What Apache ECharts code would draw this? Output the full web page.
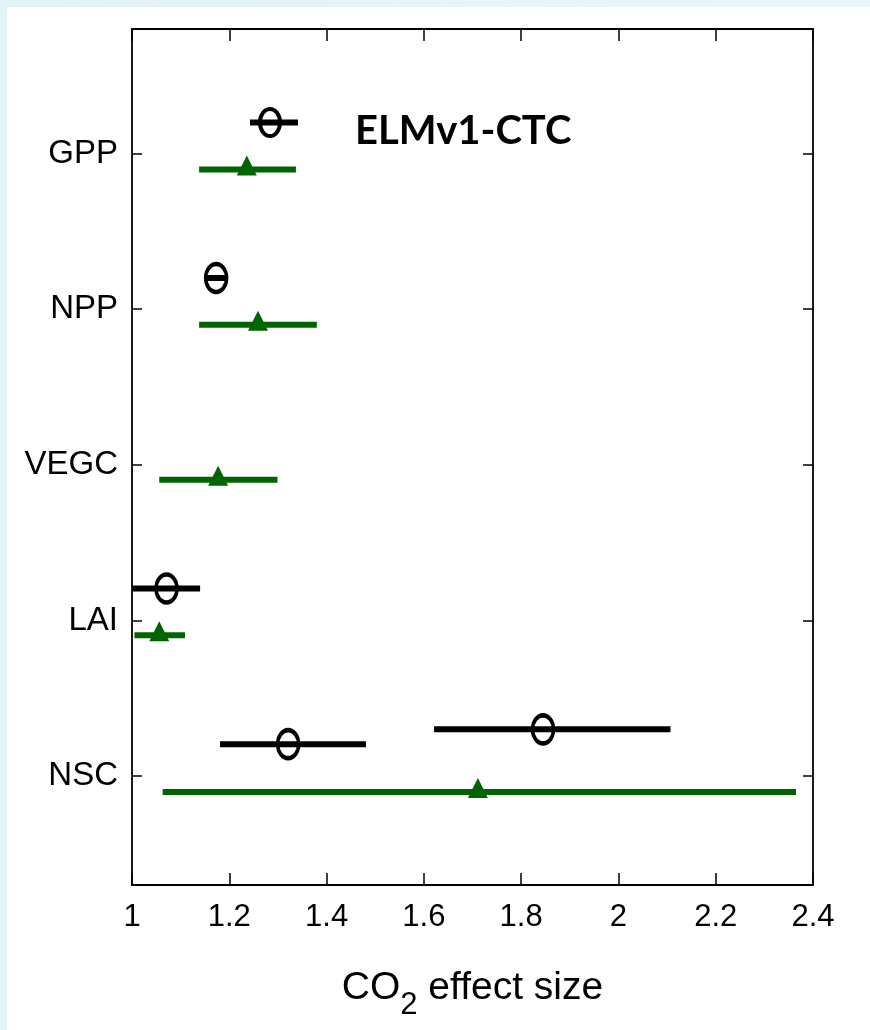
<!DOCTYPE html>
<html>
<head>
<meta charset="utf-8">
<script src="https://cdn.jsdelivr.net/npm/echarts@6/dist/echarts.min.js"></script>
<style>
  html, body {
    margin: 0;
    padding: 0;
    width: 870px;
    height: 1030px;
    overflow: hidden;
    background: linear-gradient(90deg, #e3f2f5, #eaf6f8);
  }
  #chart {
    position: absolute;
    left: 7px;
    top: 7px;
    width: 863px;
    height: 1023px;
    background: #fff;
  }
</style>
</head>
<body>
<div id="chart"></div>
<script>
// y positions: NSC=1 ... GPP=5
const categories = ['NSC', 'LAI', 'VEGC', 'NPP', 'GPP'];
const xTicks = [1, 1.2, 1.4, 1.6, 1.8, 2, 2.2, 2.4];

// ELMv1-CTC (black circles)
const ctcY = [4.20, 2.205, 1.205, 1.30];
const ctcMid = [1.173, 1.071, 1.321, 1.845];
const ctcLo = [1.150, 1.000, 1.181, 1.621];
const ctcHi = [1.197, 1.140, 1.481, 2.107];

// observations (green triangles)
const obsY = [4.897, 3.90, 2.904, 1.904, 0.897];
const obsMid = [1.236, 1.259, 1.177, 1.056, 1.711];
const obsLo = [1.138, 1.138, 1.056, 1.005, 1.063];
const obsHi = [1.337, 1.380, 1.299, 1.109, 2.365];

const BLACK = '#000000';
const GREEN = '#006400';
const FONT = "'Liberation Sans', Arial, sans-serif";

const ellipse = 'path://M10,0A10,13,0,1,1,10,26A10,13,0,1,1,10,0Z';
const legendIcon = 'path://M0,12.5L48,12.5L48,18.5L0,18.5Z' +
  'M20,0A12,15.5,0,1,1,20,31A12,15.5,0,1,1,20,0Z' +
  'M20,4A8,11.5,0,1,0,20,27A8,11.5,0,1,0,20,4Z';

function barItem(color) {
  return function (params, api) {
    const a = api.coord([api.value(0), api.value(2)]);
    const b = api.coord([api.value(1), api.value(2)]);
    return {
      type: 'line',
      shape: { x1: a[0], y1: a[1], x2: b[0], y2: b[1] },
      style: { stroke: color, lineWidth: 6, lineCap: 'butt' }
    };
  };
}

const chart = echarts.init(document.getElementById('chart'));

const xBase = {
  type: 'value',
  min: 1,
  max: 2.4,
  splitLine: { show: false },
  axisLine: { lineStyle: { color: BLACK, width: 1.8 } },
  axisTick: { inside: true, length: 12, customValues: xTicks, lineStyle: { color: BLACK, width: 1.5 } }
};
const yBase = {
  type: 'value',
  min: 0.3,
  max: 5.8,
  splitLine: { show: false },
  axisLine: { show: true, lineStyle: { color: BLACK, width: 1.8 } },
  axisTick: { show: true, inside: true, length: 10, customValues: [1, 2, 3, 4, 5], lineStyle: { color: BLACK, width: 1.5 } }
};

chart.setOption({
  animation: false,
  backgroundColor: '#fff',
  grid: { left: 125, right: 57, top: 22, bottom: 145 },
  legend: {
    data: [{ name: 'ELMv1-CTC', icon: legendIcon, itemStyle: { color: BLACK, borderWidth: 0 } }],
    left: 238,
    top: 95,
    itemWidth: 48,
    itemHeight: 31,
    selectedMode: false,
    formatter: '{t|{name}}',
    textStyle: {
      padding: [0, 0, 0, 52],
      rich: {
        t: {
          fontFamily: 'Lato, sans-serif',
          fontWeight: 'bold',
          fontSize: 40,
          color: BLACK,
          padding: [18, 0, 0, 0]
        }
      }
    }
  },
  xAxis: [
    Object.assign({}, xBase, {
      position: 'bottom',
      name: '{a|CO}{b|2}{a| effect size}',
      nameLocation: 'middle',
      nameGap: 81,
      nameTextStyle: {
        rich: {
          a: { fontFamily: FONT, fontSize: 39, lineHeight: 44, color: BLACK },
          b: { fontFamily: FONT, fontSize: 31, lineHeight: 44, color: BLACK, padding: [34, 0, 0, 0] }
        }
      },
      axisLabel: {
        customValues: xTicks,
        margin: 17,
        fontFamily: FONT,
        fontSize: 31,
        color: BLACK
      }
    }),
    Object.assign({}, xBase, { position: 'top', axisLabel: { show: false } })
  ],
  yAxis: [
    Object.assign({}, yBase, {
      position: 'left',
      axisLabel: {
        customValues: [1, 2, 3, 4, 5],
        margin: 14,
        fontFamily: FONT,
        fontSize: 33,
        color: BLACK,
        formatter: v => categories[Math.round(v) - 1]
      }
    }),
    Object.assign({}, yBase, { position: 'right', axisLabel: { show: false } })
  ],
  series: [
    {
      name: 'ELMv1-CTC',
      type: 'custom',
      renderItem: barItem(BLACK),
      encode: { x: [0, 1], y: 2 },
      itemStyle: { color: BLACK },
      data: ctcY.map((y, i) => [ctcLo[i], ctcHi[i], y]),
      z: 2
    },
    {
      name: 'ELMv1-CTC',
      type: 'scatter',
      symbol: ellipse,
      symbolSize: [21, 28],
      itemStyle: { color: 'transparent', borderColor: BLACK, borderWidth: 4, opacity: 1 },
      data: ctcY.map((y, i) => [ctcMid[i], y]),
      z: 3
    },
    {
      name: 'Observed',
      type: 'custom',
      renderItem: barItem(GREEN),
      encode: { x: [0, 1], y: 2 },
      itemStyle: { color: GREEN },
      data: obsY.map((y, i) => [obsLo[i], obsHi[i], y]),
      z: 2
    },
    {
      name: 'Observed',
      type: 'scatter',
      symbol: 'triangle',
      symbolSize: 20,
      symbolOffset: [0, -4],
      itemStyle: { color: GREEN, opacity: 1 },
      data: obsY.map((y, i) => [obsMid[i], y]),
      z: 3
    }
  ]
});
</script>
</body>
</html>
